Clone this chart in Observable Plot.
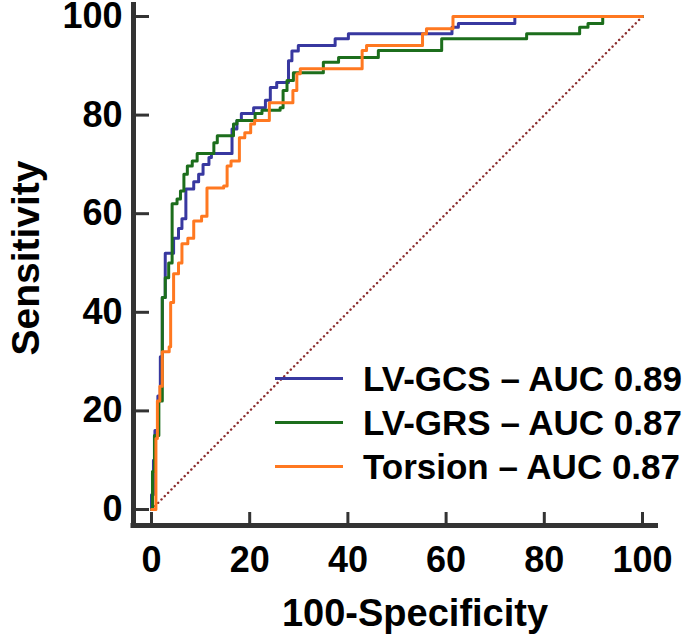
<!DOCTYPE html>
<html>
<head>
<meta charset="utf-8">
<script src="https://cdn.jsdelivr.net/npm/d3@7"></script>
<script src="https://cdn.jsdelivr.net/npm/@observablehq/plot@0.6"></script>
<style>
  html, body { margin: 0; padding: 0; background: #fff; }
  #wrap { position: relative; width: 689px; height: 638px; font-family: "Liberation Sans", Arial, sans-serif; }
  #legend { position: absolute; left: 275px; top: 356px; }
  .row { display: flex; align-items: center; height: 44px; }
  .sw { width: 68px; height: 3px; margin-right: 20px; }
  .lab { font-size: 35px; font-weight: bold; color: #000; white-space: nowrap; line-height: 1; }
</style>
</head>
<body>
<div id="wrap"></div>
<script>
// ---- data ----
const xTicks = [0, 20, 40, 60, 80, 100];
const yTicks = [0, 20, 40, 60, 80, 100];
const xTitle = "100-Specificity";
const yTitle = "Sensitivity";

const seriesNames = ["LV-GCS", "LV-GRS", "Torsion"];
const seriesAUC = ["0.89", "0.87", "0.87"];
const seriesColors = ["#3838a0", "#1c6e1c", "#ff7820"];

// LV-GCS (points where the step curve rises: x then y)
const gcsX = [0, 0, 0.4, 0.7, 1.3, 1.8, 2.2, 2.8, 4.5, 5.5, 6.2, 7.0, 8.6, 9.6, 10.5, 11.7, 12.2, 16.4, 17.4, 18.3, 20.8, 23.2, 24.2, 25.5, 27.9, 28.6, 29.9, 37.4, 40.1, 61.2, 62.5, 74, 100];
const gcsY = [0, 3, 10, 16, 23, 31, 43, 52, 55, 57, 59, 65, 66.5, 68, 70, 71.4, 72.2, 77.2, 78.9, 80.3, 81.5, 83, 85.6, 86.6, 91, 93, 94.1, 95.5, 96.5, 97.8, 98.6, 100, 100];

// LV-GRS
const grsX = [0, 0.2, 0.6, 1.5, 2.2, 2.8, 3.5, 4.2, 5.2, 5.9, 6.6, 7.3, 8.3, 9.3, 12.7, 13.4, 16.7, 17.4, 21.1, 22.5, 26.2, 26.8, 27.6, 28.9, 35, 38.1, 46.2, 59.1, 76.4, 87.2, 88.9, 91.9, 100];
const grsY = [0, 7.7, 15, 22, 43, 47, 50, 62, 63, 64.6, 68, 69.7, 70.7, 72.2, 74.4, 75.8, 78.2, 78.9, 80.3, 81, 81.5, 85, 87, 88.6, 90.7, 91.7, 93.1, 95.5, 96.5, 97.8, 98.6, 100, 100];

// Torsion
const torX = [0, 0.6, 0.9, 1.2, 1.7, 2.2, 3.6, 3.9, 4.5, 5.5, 6.2, 7.4, 8.6, 10.2, 11.3, 14.7, 15.4, 16.2, 17.9, 19, 20.2, 21, 24, 28.8, 29.6, 30.3, 42.9, 43.8, 55.2, 56, 61.4, 100];
const torY = [0, 0, 14.4, 22, 25, 32, 33, 42, 47.8, 50, 53.9, 55, 58.5, 59.5, 65.2, 65.6, 69.7, 70.7, 75.4, 76.4, 78.2, 78.9, 82.5, 85, 88.4, 89.4, 93.1, 94.1, 96.5, 97.5, 100, 100];

const diagX = [0, 100];
const diagY = [0, 100];

// ---- build tables ----
const toRows = (xs, ys) => xs.map((x, i) => ({x, y: ys[i]}));
const curves = [toRows(gcsX, gcsY), toRows(grsX, grsY), toRows(torX, torY)];
const diag = toRows(diagX, diagY);

const axisColor = "#333";
const font = "'Liberation Sans', Arial, sans-serif";

const chart = Plot.plot({
  width: 689,
  height: 638,
  marginLeft: 151,
  marginRight: 47,
  marginTop: 16,
  marginBottom: 129,
  style: {fontFamily: font, fontWeight: "bold", color: "#000", background: "#fff", overflow: "visible"},
  x: {domain: [xTicks[0], xTicks[xTicks.length - 1]]},
  y: {domain: [yTicks[0], yTicks[yTicks.length - 1]]},
  marks: [
    // offset axis lines
    Plot.ruleX([xTicks[0]], {dx: -18, insetTop: -14, insetBottom: -18.5, stroke: axisColor, strokeWidth: 5}),
    Plot.ruleY([yTicks[0]], {dy: 16, insetLeft: -20.5, insetRight: -16, stroke: axisColor, strokeWidth: 5}),
    // inward ticks
    Plot.axisY({ticks: yTicks, tickSize: -16, fill: "none", stroke: axisColor, strokeWidth: 3, dx: -18, label: null}),
    Plot.axisX({ticks: xTicks, tickSize: -13, fill: "none", stroke: axisColor, strokeWidth: 3, dy: 16, label: null}),
    // tick labels
    Plot.axisY({ticks: yTicks, tickSize: 0, tickPadding: 29, fontSize: 36, fontWeight: "bold", fill: "#000", label: null}),
    Plot.axisX({ticks: xTicks, tickSize: 0, tickPadding: 37, fontSize: 36, fontWeight: "bold", fill: "#000", label: null}),
    // diagonal reference
    Plot.line(diag, {x: "x", y: "y", stroke: "#8b2e2e", strokeWidth: 2.4, strokeDasharray: "0.1,4.6", strokeLinecap: "round"}),
    // ROC curves
    ...curves.map((c, i) => Plot.line(c, {x: "x", y: "y", curve: "step-after", stroke: seriesColors[i], strokeWidth: 3})),
    // axis titles
    Plot.text([xTitle], {frameAnchor: "bottom", textAnchor: "middle", lineAnchor: "middle", dx: 18, dy: 104, text: d => d, fontSize: 38, fontWeight: "bold", fill: "#000"}),
    Plot.text([yTitle], {frameAnchor: "left", textAnchor: "middle", lineAnchor: "middle", dx: -125, dy: -5, rotate: -90, text: d => d, fontSize: 39, fontWeight: "bold", fill: "#000"})
  ]
});

const wrap = document.getElementById("wrap");
wrap.appendChild(chart);

const legend = document.createElement("div");
legend.id = "legend";
seriesNames.forEach((name, i) => {
  const row = document.createElement("div");
  row.className = "row";
  const sw = document.createElement("span");
  sw.className = "sw";
  sw.style.background = seriesColors[i];
  const lab = document.createElement("span");
  lab.className = "lab";
  lab.textContent = `${name} \u2013 AUC ${seriesAUC[i]}`;
  row.appendChild(sw);
  row.appendChild(lab);
  legend.appendChild(row);
});
wrap.appendChild(legend);
</script>
</body>
</html>
